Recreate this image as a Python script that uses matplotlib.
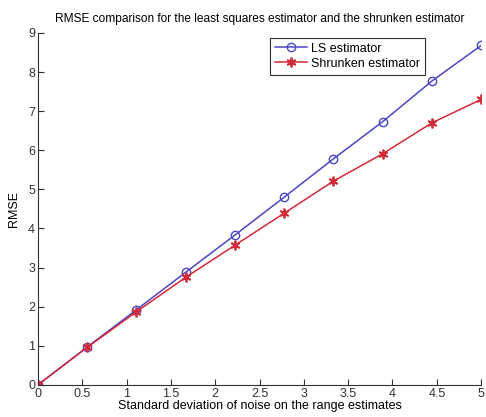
import matplotlib
matplotlib.use("Agg")
import matplotlib.pyplot as plt

sigma = [0, 0.556, 1.111, 1.667, 2.222, 2.778, 3.333, 3.889, 4.444, 5.0]
rmse_ls = [0, 0.97, 1.92, 2.88, 3.83, 4.80, 5.78, 6.73, 7.77, 8.68]
rmse_shrunk = [0, 0.96, 1.87, 2.75, 3.57, 4.39, 5.21, 5.91, 6.70, 7.30]

plt.rcParams['font.family'] = ['Liberation Sans', 'DejaVu Sans']

fig = plt.figure(figsize=(4.86, 4.17), dpi=100)
ax = fig.add_axes([0.078, 0.077, 0.912, 0.844])

ax.plot(sigma, rmse_ls, color='#4a46c4', lw=1.1, marker='o', ms=6,
        mfc='none', mec='#4a46c4', mew=1.0, label='LS estimator')
ax.plot(sigma, rmse_shrunk, color='#d22a36', lw=1.1, marker=(6, 2, 0), ms=7,
        mec='#d22a36', mew=1.3, label='Shrunken estimator')

ax.set_xlim(0, 5)
ax.set_ylim(0, 9)
ax.set_xticks([0, 0.5, 1, 1.5, 2, 2.5, 3, 3.5, 4, 4.5, 5])
ax.set_xticklabels(['0', '0.5', '1', '1.5', '2', '2.5', '3', '3.5', '4', '4.5', '5'])
ax.set_yticks(range(10))
ax.tick_params(direction='in', length=4, labelsize=9, pad=2, colors='#333333')
for s in ['top', 'right']:
    ax.spines[s].set_visible(False)
for s in ['left', 'bottom']:
    ax.spines[s].set_color('#333333')

ax.set_title('RMSE comparison for the least squares estimator and the shrunken estimator',
             fontsize=8.6, pad=8)
ax.set_xlabel('Standard deviation of noise on the range estimates', fontsize=9, labelpad=0)
ax.set_ylabel('RMSE', fontsize=9, labelpad=6)

leg = ax.legend(loc='upper right', bbox_to_anchor=(0.873, 0.987), fontsize=9,
                fancybox=False, edgecolor='#333333', framealpha=1,
                borderpad=0.4, handlelength=2.6, handletextpad=0.3,
                labelspacing=0.25, borderaxespad=0)
leg.get_frame().set_linewidth(0.8)

fig.savefig('out.png', dpi=100)
